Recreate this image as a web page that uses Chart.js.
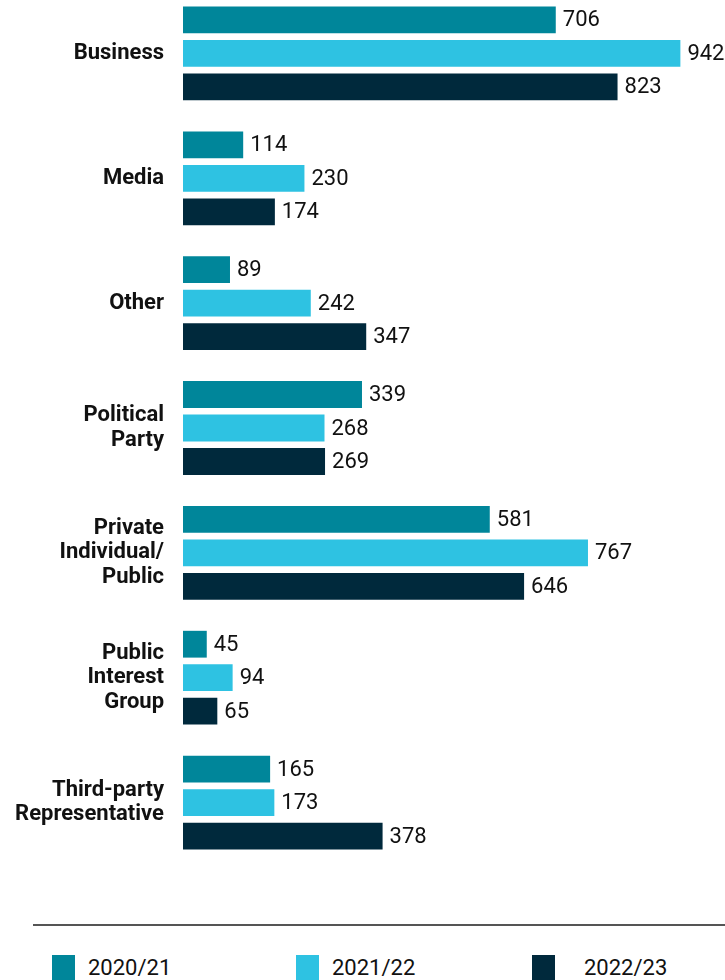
<!DOCTYPE html>
<html>
<head>
<meta charset="utf-8">
<script src="https://cdn.jsdelivr.net/npm/chart.js@4.4.0/dist/chart.umd.min.js"></script>
<style>
  body { margin: 0; background: #fff; overflow: hidden; width: 725px; height: 980px; position: relative; font-family: Roboto, "Noto Sans", sans-serif; }
  #wrap { position: absolute; left: 0; top: -9px; width: 725px; height: 874px; }
  #rule { position: absolute; left: 33px; top: 924px; width: 692px; height: 2px; background: #555; }
  .leg { position: absolute; top: 955px; height: 26px; display: flex; align-items: flex-start; }
  .leg span.box { width: 23px; height: 25px; display: inline-block; }
  .leg span.txt { font-size: 22px; line-height: 25px; color: #111; }
</style>
</head>
<body>
<div id="wrap"><canvas id="barChart"></canvas></div>
<div id="rule"></div>
<div id="legend"></div>
<script>
const categories = [
    "Business",
    "Media",
    "Other",
    ["Political", "Party"],
    ["Private", "Individual/", "Public"],
    ["Public", "Interest", "Group"],
    ["Third-party", "Representative"],
];
const seriesNames = ["2020/21", "2021/22", "2022/23"];
const values2020 = [706, 114, 89, 339, 581, 45, 165];
const values2021 = [942, 230, 242, 268, 767, 94, 173];
const values2022 = [823, 174, 347, 269, 646, 65, 378];

const colors = ["#00869A", "#2EC2E2", "#00293C"]; // teal, light blue, navy

// value text at the end of each bar
const valueLabels = {
    id: "valueLabels",
    afterDatasetsDraw(chart) {
        const ctx = chart.ctx;
        ctx.save();
        ctx.font = "22px Roboto";
        ctx.fillStyle = "#111";
        ctx.textAlign = "left";
        ctx.textBaseline = "middle";
        chart.data.datasets.forEach((ds, i) => {
            chart.getDatasetMeta(i).data.forEach((bar, j) => {
                ctx.fillText(ds.data[j], bar.x + 7, bar.y + 1);
            });
        });
        ctx.restore();
    },
};

const ctx = document.getElementById("barChart").getContext("2d");
const chart = new Chart(ctx, {
    type: "bar",
    data: {
        labels: categories,
        datasets: [values2020, values2021, values2022].map((d, i) => ({
            label: seriesNames[i],
            data: d,
            backgroundColor: colors[i],
            barPercentage: 0.8,
            categoryPercentage: 0.805,
        })),
    },
    options: {
        indexAxis: "y",
        responsive: true,
        maintainAspectRatio: false,
        animation: false,
        layout: { autoPadding: false, padding: { left: 0, right: 14, top: 0, bottom: 0 } },
        plugins: { legend: { display: false }, tooltip: { enabled: false } },
        scales: {
            x: { display: false, min: 0, max: 1000 },
            y: {
                grid: { display: false, drawTicks: false },
                border: { display: false },
                ticks: {
                    padding: 19,
                    color: "#111",
                    font: { family: "Roboto", size: 22, weight: "bold", lineHeight: 1.12 },
                },
                afterFit(scale) {
                    scale.width = 183;
                    scale.paddingTop = 0;
                    scale.paddingBottom = 0;
                },
            },
        },
    },
    plugins: [valueLabels],
});

// html legend from the chart's datasets
const legendPos = [52, 296, 532];
const legendEl = document.getElementById("legend");
chart.data.datasets.forEach((ds, i) => {
    const item = document.createElement("div");
    item.className = "leg";
    item.style.left = legendPos[i] + "px";
    item.innerHTML =
        '<span class="box" style="background:' + ds.backgroundColor + '"></span>' +
        '<span class="txt" style="margin-left:' + (i === 2 ? 29 : 13) + 'px">' + ds.label + "</span>";
    legendEl.appendChild(item);
});
</script>
</body>
</html>
